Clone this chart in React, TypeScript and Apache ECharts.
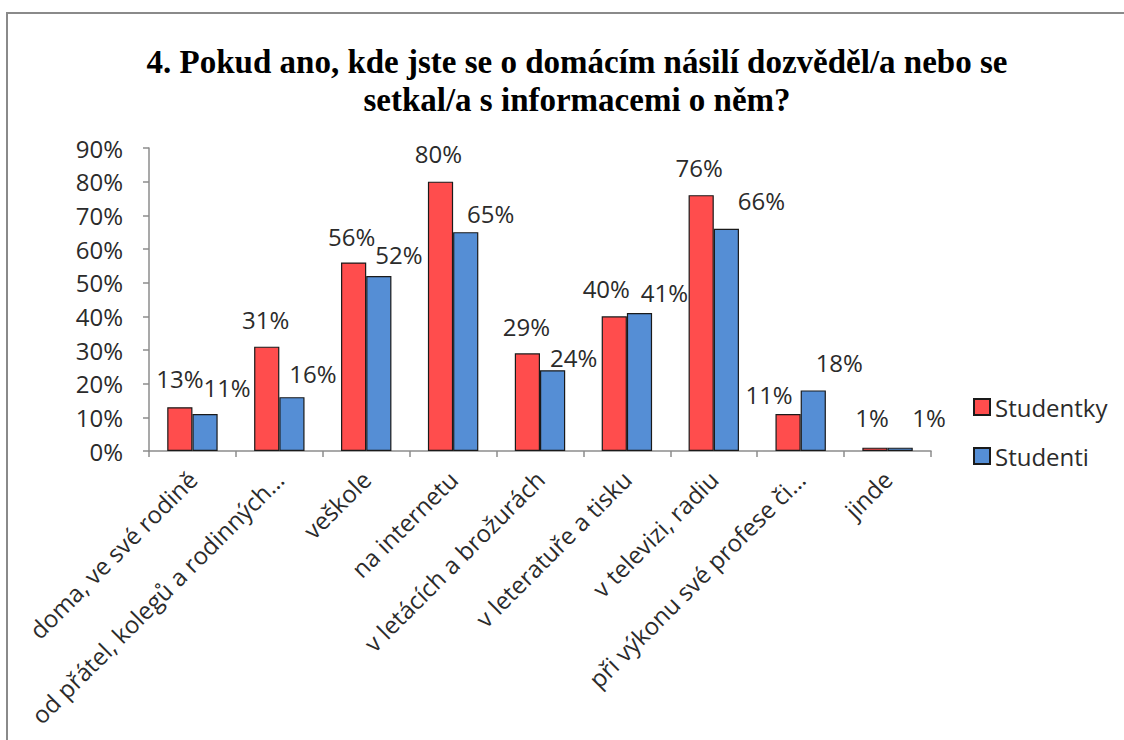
import React, { useEffect, useRef } from "react";
import * as echarts from "echarts";

const categories = [
  "doma, ve své rodině",
  "od přátel, kolegů a rodinných…",
  "veškole",
  "na internetu",
  "v letácích a brožurách",
  "v leteratuře a tisku",
  "v televizi, radiu",
  "při výkonu své profese či…",
  "jinde",
];
const studentky = [13, 31, 56, 80, 29, 40, 76, 11, 1];
const studenti = [11, 16, 52, 65, 24, 41, 66, 18, 1];
const seriesNames = ["Studentky", "Studenti"];
const titleText = "4. Pokud ano, kde jste se o domácím násilí dozvěděl/a nebo se\nsetkal/a s informacemi o něm?";

// label nudges (style only): [dx, height of label centre above bar top]
const redLabelShift = [[0, 29], [-1, 27], [-2, 26], [-2, 28], [-1, 27], [-8, 28], [-2, 28], [-19, 19], [-3, 30]];
const blueLabelShift = [[22, 26], [21, 24], [20, 21], [25, 19], [21, 13], [25, 20], [35, 28], [26, 28], [29, 30]];

const FONT = "'Open Sans', 'Noto Sans', sans-serif";
const TEXT_COLOR = "#2b2b2b";
const LABEL_SIZE = 24;

function buildData(values: number[], shifts: number[][]) {
  return values.map((v, i) => ({
    value: v,
    label: { offset: [shifts[i][0], -(shifts[i][1] - 17)] },
  }));
}

export default function App() {
  const ref = useRef<HTMLDivElement>(null);
  useEffect(() => {
    if (!ref.current) return;
    const chart = echarts.init(ref.current, undefined, { renderer: "svg" });
    const labelBase = {
      show: true,
      position: "top",
      distance: 5,
      formatter: "{c}%",
      fontFamily: FONT,
      fontSize: LABEL_SIZE,
      color: TEXT_COLOR,
    };
    chart.setOption({
      animation: false,
      backgroundColor: "#ffffff",
      title: {
        text: titleText,
        left: 572,
        textAlign: "center",
        top: 38,
        textStyle: {
          fontFamily: "'Liberation Serif', 'Times New Roman', serif",
          fontWeight: "bold",
          fontSize: 33,
          lineHeight: 38,
          color: "#000000",
        },
      },
      graphic: [
        {
          type: "rect",
          silent: true,
          shape: { x: 7, y: 13, width: 1300, height: 900 },
          style: { fill: "none", stroke: "#8a8a8a", lineWidth: 2 },
        },
      ],
      legend: {
        orient: "vertical",
        left: 968,
        top: 390,
        itemWidth: 16,
        itemHeight: 16,
        itemGap: 25,
        icon: "rect",
        textStyle: { fontFamily: FONT, fontSize: LABEL_SIZE, color: TEXT_COLOR, lineHeight: 24 },
        data: seriesNames,
      },
      grid: { left: 149, right: 193, top: 148, bottom: 289 },
      xAxis: {
        type: "category",
        data: categories,
        axisLine: { lineStyle: { color: "#8c8c8c", width: 1.5 } },
        axisTick: { show: true, length: 6, lineStyle: { color: "#8c8c8c", width: 1.5 } },
        axisLabel: {
          rotate: 45,
          interval: 0,
          margin: 24,
          fontFamily: FONT,
          fontSize: LABEL_SIZE,
          color: TEXT_COLOR,
        },
      },
      yAxis: {
        type: "value",
        min: 0,
        max: 90,
        interval: 10,
        axisLine: { show: true, lineStyle: { color: "#8c8c8c", width: 1.5 } },
        axisTick: { show: true, length: 6, lineStyle: { color: "#8c8c8c", width: 1.5 } },
        splitLine: { show: false },
        axisLabel: {
          formatter: "{value}%",
          margin: 26,
          fontFamily: FONT,
          fontSize: LABEL_SIZE,
          color: TEXT_COLOR,
        },
      },
      series: [
        {
          name: seriesNames[0],
          type: "bar",
          data: buildData(studentky, redLabelShift),
          barGap: "0%",
          barCategoryGap: "42%",
          itemStyle: { color: "#ff4d4d", borderColor: "#1a1a1a", borderWidth: 1.2 },
          label: labelBase,
        },
        {
          name: seriesNames[1],
          type: "bar",
          data: buildData(studenti, blueLabelShift),
          barGap: "0%",
          barCategoryGap: "42%",
          itemStyle: { color: "#558ed5", borderColor: "#1a1a1a", borderWidth: 1.2 },
          label: labelBase,
        },
      ],
    });
    return () => chart.dispose();
  }, []);
  return (
    <div
      ref={ref}
      style={{ position: "absolute", left: 0, top: 0, width: 1124, height: 740 }}
    />
  );
}
